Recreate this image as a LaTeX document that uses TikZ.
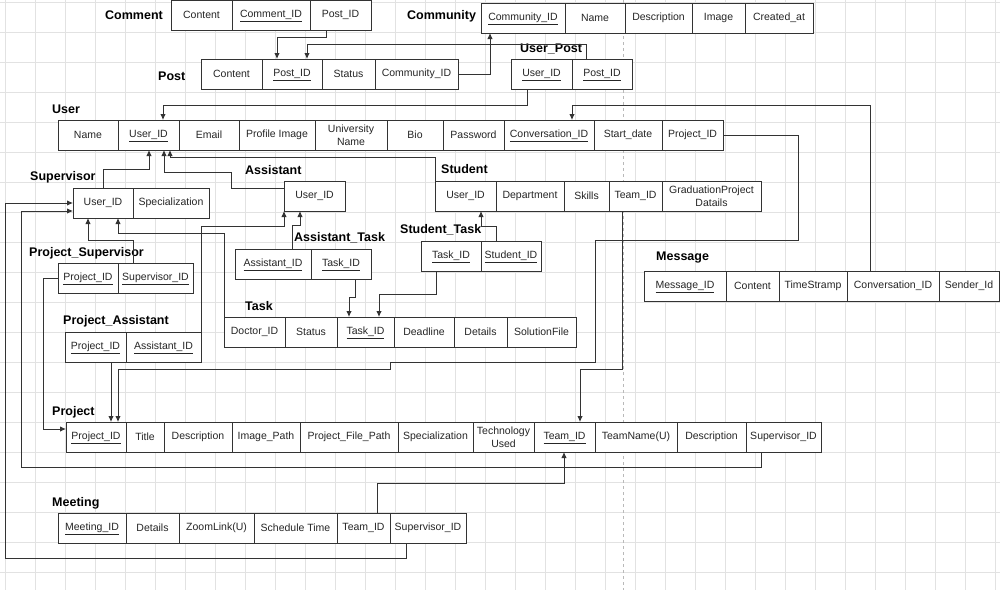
\documentclass[tikz,border=0pt]{standalone}
\usepackage{fontspec}
\setmainfont{Liberation Sans}
\usepackage{tikz}
\usetikzlibrary{arrows.meta,positioning,calc}
\definecolor{erline}{RGB}{51,51,51}
\definecolor{gridgray}{RGB}{226,226,226}
\definecolor{pagegray}{RGB}{185,185,185}

% key attribute: underlined, but sized like plain text
\newcommand{\ulkey}[1]{\smash{\underline{#1}}\vphantom{#1}}
% one row of attribute cells: name, left x, top y, {width/key/text,...}
\newcommand{\ertable}[4]{%
  \coordinate (#1-x) at (#2,#3);
  \foreach \cw/\cname/\ctext in {#4} {
    \node[cell, minimum width=\cw pt, anchor=north west] (#1-\cname) at (#1-x) {\ctext};
    \coordinate (#1-x) at (#1-\cname.north east);
  }%
}

\begin{document}
\begin{tikzpicture}[x=1pt, y=-1pt, >={Latex[length=6pt,width=5.5pt]},
  cell/.style={draw=erline, line width=0.9pt, fill=white, minimum height=30pt,
               inner sep=1pt, outer sep=0pt, align=center, text=black!85,
               font=\fontsize{10.5}{12.5}\selectfont},
  tlabel/.style={anchor=west, inner sep=0pt, font=\bfseries\fontsize{12.5}{14}\selectfont},
  fk/.style={->, draw=erline, line width=0.9pt}]
\fill[white] (0,0) rectangle (1000,590);
\useasboundingbox (0,0) rectangle (1000,590);
\foreach \gx in {5,35,...,995} \draw[gridgray, line width=0.6pt] (\gx,0) -- (\gx,590);
\foreach \gy in {2,32,...,572} \draw[gridgray, line width=0.6pt] (0,\gy) -- (1000,\gy);
\draw[pagegray, dashed, line width=0.6pt] (623,0) -- (623,590);

\ertable{comment}{171}{0}{61/con/Content, 78/cid/\ulkey{Comment\_ID}, 61/pid/Post\_ID}
\ertable{community}{481}{3}{84/cid/\ulkey{Community\_ID}, 60/name/Name, 67/desc/Description, 53/img/Image, 68/cat/Created\_at}
\ertable{post}{201}{59}{61/con/Content, 60/pid/\ulkey{Post\_ID}, 53/st/Status, 83/cid/Community\_ID}
\ertable{userpost}{511}{59}{61/uid/\ulkey{User\_ID}, 60/pid/\ulkey{Post\_ID}}
\ertable{user}{58}{120}{60/name/Name, 61/uid/\ulkey{User\_ID}, 60/email/Email, 76/img/Profile Image, 72/uni/University\\Name, 56/bio/Bio, 61/pw/Password, 90/cid/\ulkey{Conversation\_ID}, 68/sd/Start\_date, 61/pid/Project\_ID}
\ertable{super}{73}{188}{60/uid/User\_ID, 76/spec/Specialization}
\ertable{assist}{284}{181}{61/uid/User\_ID}
\ertable{student}{435}{181}{61/uid/User\_ID, 68/dep/Department, 45/sk/Skills, 53/tid/Team\_ID, 99/gpd/GraduationProject\\Datails}
\ertable{stask}{421}{241}{60/tid/\ulkey{Task\_ID}, 60/sid/\ulkey{Student\_ID}}
\ertable{atask}{235}{249}{76/aid/\ulkey{Assistant\_ID}, 60/tid/\ulkey{Task\_ID}}
\ertable{psuper}{58}{263}{60/pid/\ulkey{Project\_ID}, 75/sid/\ulkey{Supervisor\_ID}}
\ertable{passist}{65}{332}{61/pid/\ulkey{Project\_ID}, 75/aid/\ulkey{Assistant\_ID}}
\ertable{task}{224}{317}{61/did/Doctor\_ID, 52/st/Status, 57/tid/\ulkey{Task\_ID}, 60/dl/Deadline, 53/det/Details, 69/sol/SolutionFile}
\ertable{message}{644}{271}{82/mid/\ulkey{Message\_ID}, 53/con/Content, 68/ts/TimeStramp, 92/cid/Conversation\_ID, 60/snd/Sender\_Id}
\ertable{project}{66}{422}{60/pid/\ulkey{Project\_ID}, 38/title/Title, 68/desc/Description, 68/img/Image\_Path, 98/file/Project\_File\_Path, 75/spec/Specialization, 61/tech/Technology\\Used, 61/tid/\ulkey{Team\_ID}, 82/tname/TeamName(U), 69/desc2/Description, 75/sid/Supervisor\_ID}
\ertable{meeting}{58}{513}{68/mid/\ulkey{Meeting\_ID}, 53/det/Details, 75/zoom/ZoomLink(U), 83/time/Schedule Time, 53/tid/Team\_ID, 76/sid/Supervisor\_ID}

\node[tlabel] (comment-lbl) at (105,15) {Comment};
\node[tlabel] (community-lbl) at (407,16) {Community};
\node[tlabel] (post-lbl) at (158,76) {Post};
\node[tlabel] (userpost-lbl) at (520,49) {User\_Post};
\node[tlabel] (user-lbl) at (52,109) {User};
\node[tlabel] (super-lbl) at (30,177) {Supervisor};
\node[tlabel] (assist-lbl) at (245,170) {Assistant};
\node[tlabel] (student-lbl) at (441,169) {Student};
\node[tlabel] (stask-lbl) at (400,230) {Student\_Task};
\node[tlabel] (atask-lbl) at (294,238) {Assistant\_Task};
\node[tlabel] (psuper-lbl) at (29,253) {Project\_Supervisor};
\node[tlabel] (task-lbl) at (245,306) {Task};
\node[tlabel] (passist-lbl) at (63,321) {Project\_Assistant};
\node[tlabel] (message-lbl) at (656,258) {Message};
\node[tlabel] (project-lbl) at (52,412) {Project};
\node[tlabel] (meeting-lbl) at (52,503) {Meeting};

\draw[fk] (comment-pid.south -| 326,0) |- (277,37) -- (post-pid.north -| 277,0);
\draw[fk] (userpost-pid.north -| 586,0) |- (307,44) -- (post-pid.north -| 307,0);
\draw[fk] (post-cid.east) -| (community-cid.south -| 490,0);
\draw[fk] (userpost-uid.south -| 527,0) |- (163,105) -- (user-uid.north -| 163,0);
\draw[fk] (message-cid.north -| 870,0) |- (572,105) -- (user-cid.north -| 572,0);
\draw[fk] (user-pid.east) -| (798,240) -| (595,362) -| (390,369) -| (project-pid.north -| 118,0);
\draw[fk] (passist-pid.south -| 111,0) -- (project-pid.north -| 111,0);
\draw[fk] (psuper-pid.west) -| (43,429) -- (project-pid.west |- 0,429);
\draw[fk] (super-uid.north -| 103,0) |- (149,169) -- (user-uid.south -| 149,0);
\draw[fk] (assist-uid.west |- 0,188) -| (231,172) -| (user-uid.south -| 164,0);
\draw[fk] (student-uid.north west) |- (170,157) -- (user-uid.south -| 170,0);
\draw[fk] (stask-sid.north -| 496,0) |- (481,226) -- (student-uid.south -| 481,0);
\draw[fk] (stask-tid.south -| 436,0) |- (379,294) -- (task-tid.north -| 379,0);
\draw[fk] (atask-tid.south -| 355,0) |- (349,297) -- (task-tid.north -| 349,0);
\draw[fk] (atask-aid.north -| 292,0) |- (300,225) -- (assist-uid.south -| 300,0);
\draw[fk] (passist-aid.north east) |- (284,226) -- (assist-uid.south west);
\draw[fk] (task-did.north west) |- (118,233) -- (super-uid.south -| 118,0);
\draw[fk] (psuper-sid.north -| 133,0) |- (88,240) -- (super-uid.south -| 88,0);
\draw[fk] (meeting-sid.south -| 406,0) |- (5,558) |- (super-uid.west |- 0,203);
\draw[fk] (project-sid.south -| 761,0) |- (21,467) |- (super-uid.west |- 0,211);
\draw[fk] (meeting-tid.north -| 377,0) |- (564,483) -- (project-tid.south -| 564,0);
\draw[fk] (student-tid.south -| 622,0) |- (580,369) -- (project-tid.north -| 580,0);
\end{tikzpicture}
\end{document}
